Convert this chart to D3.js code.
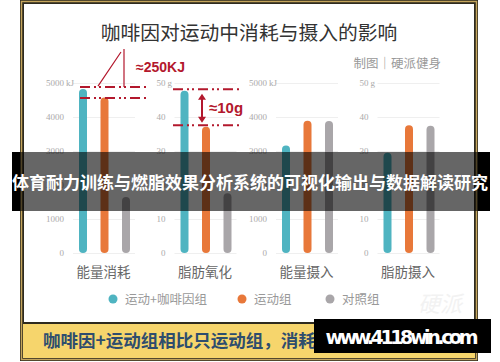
<!DOCTYPE html>
<html>
<head>
<meta charset="utf-8">
<script src="https://cdn.jsdelivr.net/npm/d3@7"></script>
<style>
  body { margin: 0; background: #fff; }
  svg { display: block; font-family: "Noto Sans CJK SC", "Noto Sans", sans-serif; }
</style>
</head>
<body>
<div id="chart"></div>
<script>
"use strict"

// chart values
const categories = ["能量消耗", "脂肪氧化", "能量摄入", "脂肪摄入"];
const units = ["kJ", "g", "kJ", "g"];
const maxima = [5000, 50, 5000, 50];
const groups = ["运动+咖啡因组", "运动组", "对照组"];
const caffeine = [4820, 47.7, 3160, 29.5];
const exercise = [4570, 37.1, 3890, 37.6];
const control = [1650, 17.6, 3880, 37.4];
const colors = ["#4fb4c1", "#e8783a", "#a9a6a9"];

const RED = "#b3182d";
const W = 500, H = 362;

const svg = d3.select("#chart").append("svg")
  .attr("width", W)
  .attr("height", H);

// frame
svg.append("rect").attr("x", 20).attr("y", 0).attr("width", 458).attr("height", 361).attr("fill", "#2e2a1e");
svg.append("rect").attr("x", 21.5).attr("y", 1.5).attr("width", 455).attr("height", 358)
  .attr("fill", "none").attr("stroke", "#c4a55c").attr("stroke-width", 1.5);
svg.append("rect").attr("x", 24).attr("y", 4).attr("width", 450).attr("height", 318).attr("fill", "#fff");
svg.append("rect").attr("x", 23).attr("y", 324).attr("width", 452).attr("height", 34).attr("fill", "#f6d56c");

// title
svg.append("text")
  .attr("x", 249).attr("y", 40)
  .attr("text-anchor", "middle")
  .attr("font-size", 19.8)
  .attr("fill", "#333")
  .text("咖啡因对运动中消耗与摄入的影响");

svg.append("text")
  .attr("x", 441).attr("y", 68)
  .attr("text-anchor", "end")
  .attr("font-size", 12.5)
  .attr("fill", "#999")
  .text("制图｜硬派健身");

// scales
const panelX = d3.scaleBand().domain(categories).range([73, 479]);
const barX = d3.scalePoint().domain(groups).range([10, 53]);
const barW = 8;

const series = [caffeine, exercise, control];

categories.forEach((cat, i) => {
  const y = d3.scaleLinear().domain([0, maxima[i]]).range([253, 83]);
  const g = svg.append("g").attr("transform", `translate(${panelX(cat)},0)`);

  // axis with gridlines
  const ax = g.append("g")
    .call(d3.axisLeft(y).ticks(5).tickFormat(d3.format("d")).tickSize(-62).tickPadding(9));
  ax.select(".domain").remove();
  ax.selectAll(".tick line").attr("stroke", "#efefef");
  ax.selectAll(".tick text")
    .attr("fill", "#aaa")
    .attr("font-size", 9)
    .attr("font-family", "'Liberation Serif', serif");
  ax.selectAll(".tick").filter(d => d === maxima[i])
    .append("text")
      .attr("x", -7).attr("dy", "0.32em")
      .attr("fill", "#aaa")
      .attr("font-size", 9)
      .attr("font-family", "'Liberation Serif', serif")
      .attr("text-anchor", "start")
      .text(units[i]);

  // bars
  g.selectAll("rect.bar")
    .data(groups.map((grp, k) => ({grp, v: series[k][i], c: colors[k]})))
    .enter()
    .append("rect")
      .attr("class", "bar")
      .attr("x", d => barX(d.grp) - barW / 2)
      .attr("y", d => y(d.v))
      .attr("width", barW)
      .attr("height", d => y(0) - y(d.v))
      .attr("rx", barW / 2)
      .attr("fill", d => d.c);

  // category label
  g.append("text")
    .attr("x", barX(groups[1]) - 1)
    .attr("y", 277)
    .attr("text-anchor", "middle")
    .attr("font-size", 13.5)
    .attr("fill", "#666")
    .text(cat);
});

// annotations
function dashLine(x1, x2, yy) {
  svg.append("line")
    .attr("x1", x1).attr("x2", x2).attr("y1", yy).attr("y2", yy)
    .attr("stroke", RED).attr("stroke-width", 2)
    .attr("stroke-dasharray", "10,4,2,3,2,4");
}

const yE = d3.scaleLinear().domain([0, 5000]).range([253, 83]);
const yF = d3.scaleLinear().domain([0, 50]).range([253, 83]);

dashLine(80, 147, yE(caffeine[0]) - 2);
dashLine(80, 147, yE(exercise[0]) + 0.5);
svg.append("path")
  .attr("d", `M98,${yE(caffeine[0]) - 3} L121,52 M124,49 L124,${yE(caffeine[0]) - 2}`)
  .attr("fill", "none").attr("stroke", RED).attr("stroke-width", 1.2);
svg.append("text")
  .attr("x", 136).attr("y", 72)
  .attr("font-size", 14).attr("font-weight", "bold")
  .attr("fill", RED)
  .attr("font-family", "'Liberation Sans', sans-serif")
  .text("≈250KJ");

dashLine(173, 240, yF(caffeine[1]) - 1.5);
dashLine(173, 240, yF(exercise[1]) - 1.5);
const ay1 = yF(caffeine[1]) + 3, ay2 = yF(exercise[1]) - 4;
svg.append("line")
  .attr("x1", 202).attr("x2", 202).attr("y1", ay1 + 4).attr("y2", ay2 - 4)
  .attr("stroke", RED).attr("stroke-width", 2);
svg.append("path")
  .attr("d", `M202,${ay1} L198,${ay1 + 6} L206,${ay1 + 6} Z M202,${ay2} L198,${ay2 - 6} L206,${ay2 - 6} Z`)
  .attr("fill", RED);
svg.append("text")
  .attr("x", 209).attr("y", 113)
  .attr("font-size", 15).attr("font-weight", "bold")
  .attr("fill", RED)
  .attr("font-family", "'Liberation Sans', sans-serif")
  .text("≈10g");

// legend
const legendX = [113, 242, 330];
const legend = svg.selectAll("g.legend")
  .data(groups)
  .enter()
  .append("g")
    .attr("class", "legend")
    .attr("transform", (d, i) => `translate(${legendX[i]},299)`);
legend.append("circle").attr("r", 4.5).attr("fill", (d, i) => colors[i]);
legend.append("text")
  .attr("x", 12).attr("dy", "0.36em")
  .attr("font-size", 12.5).attr("fill", "#999")
  .text(d => d);

// faint watermark
svg.append("text")
  .attr("x", 418).attr("y", 312)
  .attr("font-size", 22).attr("font-style", "italic")
  .attr("fill", "#f2f2f2")
  .text("硬派");

// bottom caption
svg.append("text")
  .attr("x", 43).attr("y", 347)
  .attr("font-size", 17.5).attr("font-weight", "bold")
  .attr("fill", "#2e4d6e")
  .text("咖啡因+运动组相比只运动组，消耗更多热量和脂肪。");

// overlay band
svg.append("rect").attr("x", 12).attr("y", 152).attr("width", 478).attr("height", 59)
  .attr("fill", "#000").attr("fill-opacity", 0.6);
svg.append("rect").attr("x", 12).attr("y", 152).attr("width", 8).attr("height", 59).attr("fill", "#000");
svg.append("rect").attr("x", 478).attr("y", 152).attr("width", 12).attr("height", 59).attr("fill", "#000");
svg.append("text")
  .attr("x", 250).attr("y", 189)
  .attr("text-anchor", "middle")
  .attr("font-size", 17).attr("font-weight", "bold")
  .attr("fill", "#fff")
  .attr("textLength", 476)
  .text("体育耐力训练与燃脂效果分析系统的可视化输出与数据解读研究");

// site stamp
svg.append("rect").attr("x", 314).attr("y", 319).attr("width", 177).attr("height", 34).attr("fill", "#000");
svg.append("text")
  .attr("x", 402).attr("y", 344)
  .attr("text-anchor", "middle")
  .attr("font-size", 19).attr("font-weight", "bold")
  .attr("fill", "#fff")
  .attr("font-family", "'DejaVu Sans', sans-serif")
  .attr("textLength", 153)
  .text("www.4118win.com");
</script>
</body>
</html>
